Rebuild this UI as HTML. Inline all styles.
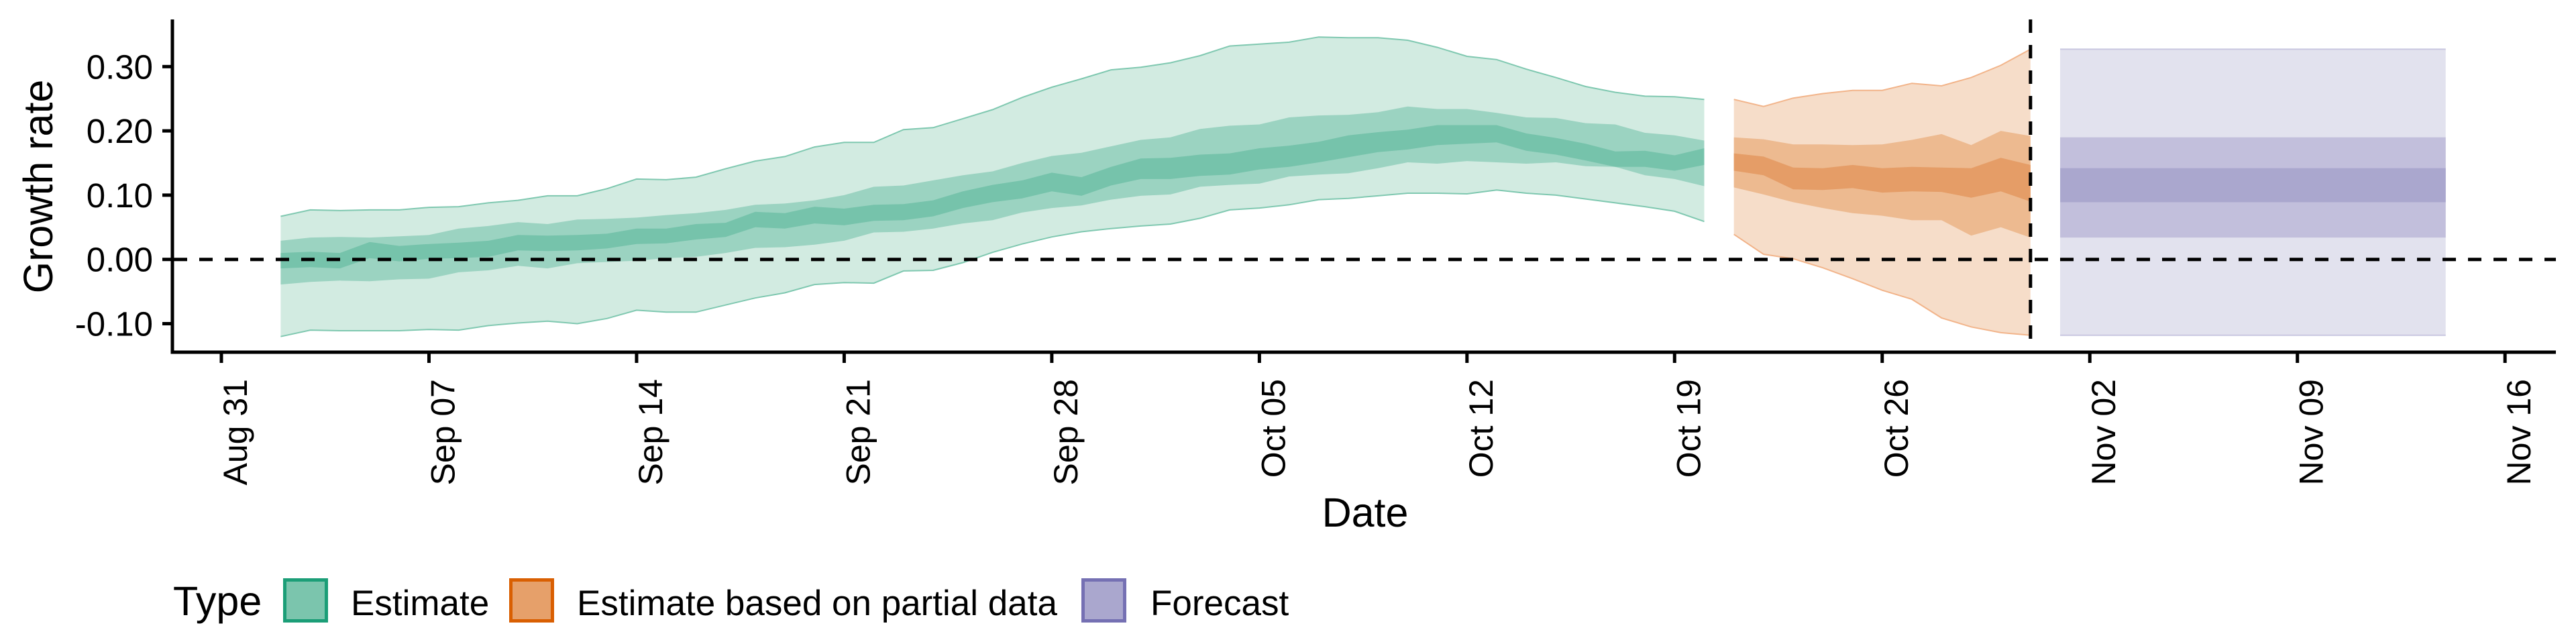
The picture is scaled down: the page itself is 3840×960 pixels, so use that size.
<!DOCTYPE html>
<html><head><meta charset="utf-8">
<style>
html,body{margin:0;padding:0;background:#fff;}
svg{display:block;font-family:"Liberation Sans",Arial,sans-serif;}
</style></head>
<body>
<svg id="chart" width="3840" height="960" viewBox="0 0 3840 960" xmlns="http://www.w3.org/2000/svg">
<g id="bands"></g>
<g id="refs"></g>
<g id="axes"></g>
<text transform="translate(78,278) rotate(-90)" text-anchor="middle" font-size="61">Growth rate</text>
<text x="2035" y="785" text-anchor="middle" font-size="61">Date</text>
<g>
  <text x="258" y="917" font-size="61">Type</text>
  <rect x="424.5" y="864.5" width="62" height="61" fill="#7bc5ad" stroke="#1b9e77" stroke-width="5"/>
  <text x="523" y="917" font-size="53">Estimate</text>
  <rect x="761.5" y="864.5" width="62" height="61" fill="#e6a06a" stroke="#d95f02" stroke-width="5"/>
  <text x="860" y="917" font-size="53">Estimate based on partial data</text>
  <rect x="1614.5" y="864.5" width="62" height="61" fill="#aaa7ce" stroke="#7570b3" stroke-width="5"/>
  <text x="1715" y="917" font-size="53">Forecast</text>
</g>
</svg>
<script>
// ---- data (day offsets from Aug 31) ----
const estStart = 2;
const estU90 = [0.067,0.077,0.076,0.077,0.077,0.081,0.082,0.088,0.092,0.099,0.099,0.110,0.125,0.124,0.128,0.141,0.153,0.160,0.175,0.182,0.182,0.202,0.205,0.219,0.233,0.252,0.268,0.281,0.295,0.299,0.306,0.317,0.332,0.335,0.338,0.346,0.345,0.345,0.341,0.330,0.316,0.311,0.296,0.283,0.269,0.260,0.254,0.253,0.249];
const estL90 = [-0.120,-0.110,-0.111,-0.111,-0.111,-0.109,-0.110,-0.103,-0.099,-0.096,-0.100,-0.092,-0.079,-0.082,-0.082,-0.071,-0.060,-0.052,-0.039,-0.036,-0.037,-0.018,-0.017,-0.005,0.011,0.024,0.035,0.043,0.048,0.052,0.055,0.064,0.077,0.080,0.085,0.093,0.095,0.099,0.103,0.103,0.102,0.108,0.103,0.100,0.094,0.088,0.082,0.075,0.059];
const estU50 = [0.029,0.034,0.035,0.034,0.036,0.038,0.048,0.052,0.058,0.055,0.062,0.063,0.065,0.069,0.072,0.077,0.085,0.087,0.092,0.100,0.113,0.115,0.123,0.131,0.137,0.150,0.161,0.166,0.176,0.186,0.190,0.203,0.208,0.210,0.221,0.224,0.225,0.229,0.238,0.234,0.234,0.228,0.221,0.220,0.212,0.210,0.197,0.193,0.185];
const estL50 = [-0.039,-0.035,-0.033,-0.034,-0.031,-0.030,-0.020,-0.017,-0.010,-0.014,-0.006,-0.004,-0.002,0.002,0.004,0.010,0.018,0.019,0.023,0.029,0.042,0.043,0.048,0.056,0.061,0.073,0.080,0.084,0.093,0.099,0.101,0.113,0.116,0.118,0.129,0.132,0.134,0.142,0.151,0.149,0.153,0.151,0.149,0.151,0.145,0.144,0.131,0.125,0.114];
const estU20 = [0.010,0.012,0.010,0.027,0.021,0.024,0.026,0.029,0.038,0.037,0.038,0.040,0.048,0.048,0.055,0.057,0.074,0.072,0.082,0.079,0.085,0.086,0.092,0.106,0.116,0.123,0.135,0.128,0.144,0.157,0.158,0.163,0.165,0.173,0.177,0.183,0.193,0.198,0.202,0.209,0.209,0.209,0.196,0.189,0.180,0.168,0.169,0.162,0.173];
const estL20 = [-0.014,-0.012,-0.014,0.002,-0.003,0.001,0.002,0.004,0.014,0.013,0.014,0.017,0.024,0.025,0.031,0.035,0.050,0.048,0.056,0.053,0.060,0.061,0.067,0.080,0.089,0.095,0.106,0.099,0.115,0.125,0.125,0.130,0.132,0.140,0.144,0.151,0.159,0.167,0.171,0.178,0.180,0.182,0.169,0.163,0.154,0.144,0.144,0.138,0.147];

const partStart = 51;
const partU90 = [0.249,0.238,0.251,0.258,0.263,0.263,0.274,0.270,0.283,0.302,0.327];
const partL90 = [0.039,0.008,0.001,-0.013,-0.030,-0.048,-0.062,-0.091,-0.105,-0.114,-0.118];
const partU50 = [0.190,0.187,0.179,0.179,0.178,0.179,0.186,0.195,0.178,0.200,0.192];
const partL50 = [0.112,0.101,0.089,0.080,0.072,0.068,0.061,0.061,0.037,0.050,0.034];
const partU20 = [0.165,0.160,0.143,0.142,0.147,0.142,0.144,0.143,0.142,0.158,0.147];
const partL20 = [0.138,0.131,0.109,0.108,0.111,0.104,0.106,0.105,0.096,0.106,0.090];

const fcRange = [62, 75];
const fcU90 = 0.327, fcL90 = -0.118;
const fcU50 = 0.190, fcL50 = 0.034;
const fcU20 = 0.142, fcL20 = 0.089;

const dataCutoff = 61;
const xTickDays = [0,7,14,21,28,35,42,49,56,63,70,77];
const xTickLabels = ["Aug 31","Sep 07","Sep 14","Sep 21","Sep 28","Oct 05","Oct 12","Oct 19","Oct 26","Nov 02","Nov 09","Nov 16"];
const yTicks = [-0.1,0,0.1,0.2,0.3];
const yTickLabels = ["-0.10","0.00","0.10","0.20","0.30"];

// ---- scales ----
const X0 = 330, PXD = 44.21;
const Y0 = 386.7, PXV = 958;
const xs = d => X0 + PXD * d;
const ys = v => Y0 - PXV * v;
const NS = "http://www.w3.org/2000/svg";
function mk(tag, attrs, parent){
  const e = document.createElementNS(NS, tag);
  for (const k in attrs) e.setAttribute(k, attrs[k]);
  parent.appendChild(e); return e;
}
const bands = document.getElementById('bands');
function band(start, up, lo, fill, stroke, name){
  let pts = [];
  for (let i=0;i<up.length;i++) pts.push(xs(start+i).toFixed(1)+","+ys(up[i]).toFixed(1));
  for (let i=lo.length-1;i>=0;i--) pts.push(xs(start+i).toFixed(1)+","+ys(lo[i]).toFixed(1));
  const p = mk('polygon', {points: pts.join(' '), fill: fill}, bands);
  
  
  if (stroke){
    const ln = (arr)=>arr.map((v,i)=>xs(start+i).toFixed(1)+","+ys(v).toFixed(1)).join(' ');
    const a = mk('polyline', {points: ln(up), fill:'none', stroke: stroke, 'stroke-width':2}, bands);
    
    
    const b = mk('polyline', {points: ln(lo), fill:'none', stroke: stroke, 'stroke-width':2}, bands);
    
    
  }
}
band(estStart, estU90, estL90, '#d2ebe1', '#7fc8b0', 'estimate-band-90');
band(estStart, estU50, estL50, '#9bd3c1', null, 'estimate-band-50');
band(estStart, estU20, estL20, '#76c3ab', null, 'estimate-band-20');
band(partStart, partU90, partL90, '#f6ddc9', '#f2b48a', 'partial-band-90');
band(partStart, partU50, partL50, '#edba90', null, 'partial-band-50');
band(partStart, partU20, partL20, '#e59d67', null, 'partial-band-20');

function fcRect(u, l, fill, name){
  const r = mk('rect', {x: xs(fcRange[0]), y: ys(u), width: xs(fcRange[1])-xs(fcRange[0]), height: ys(l)-ys(u), fill: fill}, bands);
  
  
}
fcRect(fcU90, fcL90, '#e2e2ee', 'forecast-band-90');
fcRect(fcU50, fcL50, '#c2bfdc', 'forecast-band-50');
fcRect(fcU20, fcL20, '#aaa7ce', 'forecast-band-20');
const fe1 = mk('line', {x1: xs(fcRange[0]), x2: xs(fcRange[1]), y1: ys(fcU90), y2: ys(fcU90), stroke:'#c8c6e0', 'stroke-width':2}, bands);


const fe2 = mk('line', {x1: xs(fcRange[0]), x2: xs(fcRange[1]), y1: ys(fcL90), y2: ys(fcL90), stroke:'#c8c6e0', 'stroke-width':2}, bands);



// reference lines
const refs = document.getElementById('refs');
const hz = mk('line', {x1: 259, x2: 3810, y1: ys(0), y2: ys(0), stroke:'#000', 'stroke-width':5, 'stroke-dasharray':'20 18'}, refs);


const vt = mk('line', {x1: xs(dataCutoff), x2: xs(dataCutoff), y1: 29, y2: 525, stroke:'#000', 'stroke-width':5, 'stroke-dasharray':'20 18'}, refs);



// axes
const axes = document.getElementById('axes');
const ya = mk('line', {x1: 257, x2: 257, y1: 29, y2: 527.5, stroke:'#000', 'stroke-width':5}, axes);


const xa = mk('line', {x1: 254.5, x2: 3810, y1: 525, y2: 525, stroke:'#000', 'stroke-width':5}, axes);


yTicks.forEach((v,i)=>{
  const t = mk('line', {x1: 242, x2: 257, y1: ys(v), y2: ys(v), stroke:'#000', 'stroke-width':5}, axes);
  
  
  const l = mk('text', {x: 228, y: ys(v)+18, 'text-anchor':'end', 'font-size':51}, axes);
  l.textContent = yTickLabels[i];
  
  
});
xTickDays.forEach((d,i)=>{
  const t = mk('line', {x1: xs(d), x2: xs(d), y1: 525, y2: 541, stroke:'#000', 'stroke-width':5}, axes);
  
  
  const l = mk('text', {transform: 'translate('+(xs(d)+38)+',565) rotate(-90)', 'text-anchor':'end', 'font-size':50}, axes);
  l.textContent = xTickLabels[i];
  
  
});
</script>
</body></html>
